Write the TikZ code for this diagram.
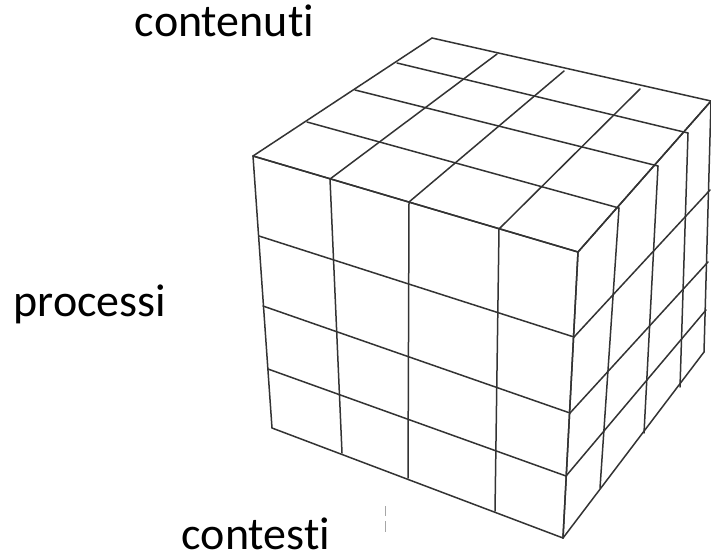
\documentclass[tikz,border=0pt]{standalone}
\usepackage{fontspec}
\setmainfont{Carlito}[Ligatures=NoCommon]
\begin{document}
\begin{tikzpicture}[x=1pt,y=-1pt,
  edge/.style={draw=black!80, line width=1.5pt, line join=round, line cap=round},
  lbl/.style={font=\fontsize{46}{50}\selectfont, anchor=base, inner sep=0pt, text=black}]
\fill[white] (0,0) rectangle (711,555);
\useasboundingbox (0,0) rectangle (711,555);
% front face: top, bottom, left, near edges
\coordinate (T0) at (253,156); \coordinate (T1) at (330,179); \coordinate (T2) at (409,202);
\coordinate (T3) at (499,229); \coordinate (T4) at (578,252);
\coordinate (B0) at (272,428); \coordinate (B1) at (342,453); \coordinate (B2) at (408,478);
\coordinate (B3) at (495,511); \coordinate (B4) at (563,538);
\coordinate (L0) at (253,156); \coordinate (L1) at (259,236); \coordinate (L2) at (263,306);
\coordinate (L3) at (268,369); \coordinate (L4) at (272,428);
\coordinate (R0) at (578,252); \coordinate (R1) at (574,337); \coordinate (R2) at (570,413);
\coordinate (R3) at (566,476); \coordinate (R4) at (563,538);
% top face: back-left edge, right edge, back edge
\coordinate (P0) at (253,156); \coordinate (P1) at (307,122); \coordinate (P2) at (355,90);
\coordinate (P3) at (397,63); \coordinate (P4) at (432,38);
\coordinate (Q0) at (578,252); \coordinate (Q1) at (619,208); \coordinate (Q2) at (658,166);
\coordinate (Q3) at (688,133); \coordinate (Q4) at (711,101);
\coordinate (K0) at (432,38); \coordinate (K1) at (497,54); \coordinate (K2) at (564,71);
\coordinate (K3) at (640,89); \coordinate (K4) at (711,101);
% right face: far edge, bottom edge
\coordinate (F0) at (711,101); \coordinate (F1) at (710,190); \coordinate (F2) at (708,262);
\coordinate (F3) at (706,310); \coordinate (F4) at (704,352);
\coordinate (V0) at (563,538); \coordinate (V1) at (600,488); \coordinate (V2) at (644,433);
\coordinate (V3) at (680,387); \coordinate (V4) at (704,352);
\foreach \i in {0,...,4}{
  \draw[edge] (T\i) -- (B\i);
  \draw[edge] (L\i) -- (R\i);
  \draw[edge] (T\i) -- (K\i);
  \draw[edge] (P\i) -- (Q\i);
  \draw[edge] (Q\i) -- (V\i);
  \draw[edge] (R\i) -- (F\i);
}
% faint scan mark
\draw[black!35, line width=0.8pt] (385,506) -- (385,516) (385,521) -- (385,532);
% labels
\node[lbl] (contenuti) at (224.5,36.7) {contenuti};
\node[lbl] (processi) at (90,316.7) {processi};
\node[lbl] (contesti) at (256,549) {contesti};
\end{tikzpicture}
\end{document}
